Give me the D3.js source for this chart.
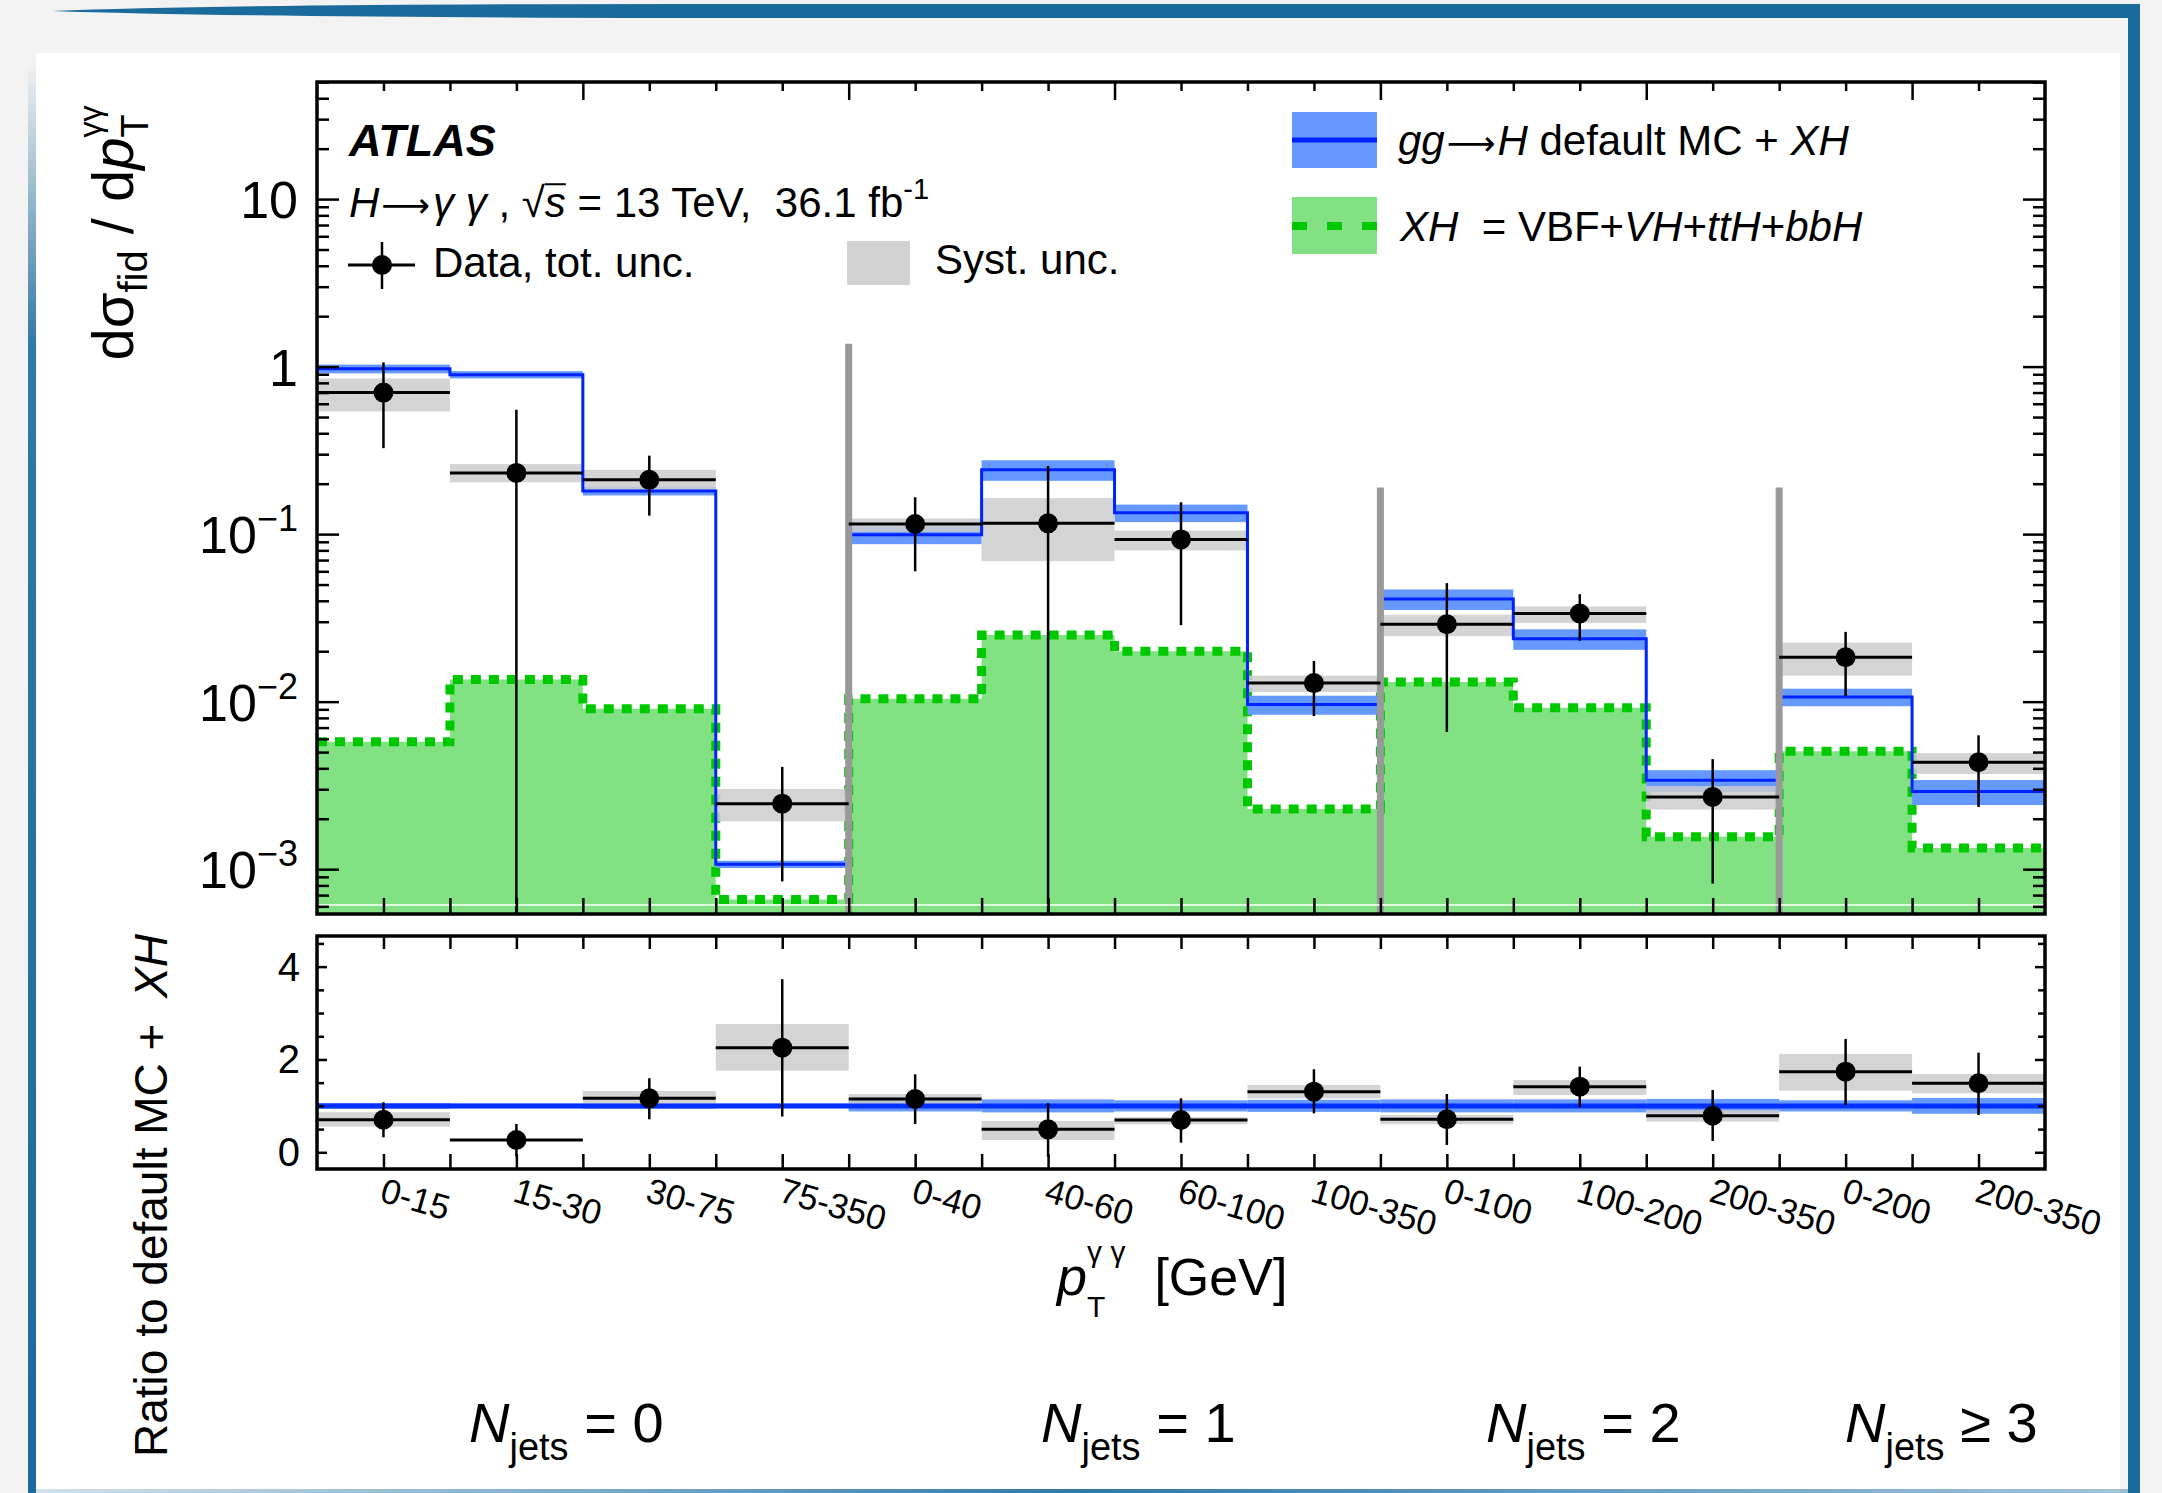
<!DOCTYPE html>
<html>
<head>
<meta charset="utf-8">
<script src="https://cdn.jsdelivr.net/npm/d3@7"></script>
<style>
  body { margin: 0; background: #f3f3f3; }
  svg { display: block; }
  text { white-space: pre; }
</style>
</head>
<body>
<script>
// ---- data ----
const binLabels = ['0-15', '15-30', '30-75', '75-350', '0-40', '40-60', '60-100', '100-350',
  '0-100', '100-200', '200-350', '0-200', '200-350'];

// upper panel, d sigma / d pT  (fb/GeV)
const dataVal = [0.70, 0.232, 0.211, 0.00246, 0.115, 0.116, 0.093, 0.0129, 0.029, 0.0336, 0.0027, 0.0184, 0.00435];
const totHi   = [1.06, 0.553, 0.294, 0.00408, 0.166, 0.255, 0.155, 0.0175, 0.051, 0.0438, 0.00454, 0.0261, 0.0063];
const totLo   = [0.326, 0, 0.129, 0.000845, 0.060, 0, 0.0286, 0.0082, 0.0066, 0.0231, 0.00082, 0.0108, 0.00235];
const systHi  = [0.85, 0.262, 0.242, 0.00301, 0.124, 0.164, 0.105, 0.0143, 0.033, 0.037, 0.00313, 0.0225, 0.00493];
const systLo  = [0.54, 0.204, 0.181, 0.00193, 0.103, 0.069, 0.080, 0.0114, 0.0246, 0.0295, 0.00227, 0.0143, 0.0037];
const mcVal   = [0.97, 0.895, 0.181, 0.00107, 0.099, 0.242, 0.134, 0.0096, 0.041, 0.0237, 0.00339, 0.01067, 0.00291];
const mcUnc   = [0.06, 0.05, 0.06, 0.05, 0.12, 0.14, 0.12, 0.13, 0.14, 0.14, 0.15, 0.12, 0.17];
const xhVal   = [0.00577, 0.01355, 0.00908, 0.00066, 0.0104, 0.025, 0.020, 0.00229, 0.0131, 0.0092, 0.00156, 0.00505, 0.00134];

// N_jets separators (bin edge index, top value)
const sepEdge = [4, 8, 11];
const sepTop = [1.37, 0.19, 0.19];

// ratio panel
const ratioVal    = [0.70, 0.265, 1.163, 2.255, 1.149, 0.495, 0.696, 1.306, 0.711, 1.414, 0.789, 1.737, 1.487];
const ratioHi     = [1.078, 0.61, 1.595, 3.73, 1.681, 1.056, 1.163, 1.789, 1.256, 1.845, 1.343, 2.442, 2.147];
const ratioLo     = [0.323, -0.09, 0.711, 0.77, 0.61, -0.094, 0.207, 0.84, 0.157, 0.97, 0.244, 1.019, 0.804];
const ratioSystHi = [0.862, 0.272, 1.32, 2.765, 1.256, 0.675, 0.754, 1.45, 0.804, 1.558, 0.912, 2.119, 1.687];
const ratioSystLo = [0.552, 0.258, 0.983, 1.759, 1.019, 0.265, 0.603, 1.163, 0.603, 1.235, 0.66, 1.328, 1.271];

const njetsText = ['= 0', '= 1', '= 2', '\u2265 3'];
const upperTickLabels = [[10, '10', ''], [1, '1', ''], [0.1, '10', '\u22121'], [0.01, '10', '\u22122'], [0.001, '10', '\u22123']];
const ratioTickLabels = [0, 2, 4];

// ---- layout ----
const W = 2162, H = 1493;
const L = 317, R = 2045;
const uTop = 82, uBot = 914, rTop = 936, rBot = 1169;
const njetsPosX = [469, 1041, 1486, 1845];
const ARROW = 'DejaVu Sans';

const svg = d3.select('body').append('svg')
  .attr('width', W).attr('height', H)
  .style('font-family', '"Liberation Sans", Arial, Helvetica, sans-serif');

const nb = binLabels.length;
const x = d3.scaleLinear().domain([0, nb]).range([L, R]);
const yU = d3.scaleLog().domain([5.4e-4, 50]).range([uBot, uTop]);
const yR = d3.scaleLinear().domain([-0.36, 4.66]).range([rBot, rTop]);
const bw = x(1) - x(0);

// ---- slide decoration ----
const defs = svg.append('defs');
const lg = defs.append('linearGradient').attr('id', 'leftFade').attr('x1', 0).attr('x2', 0).attr('y1', 0).attr('y2', 1);
lg.append('stop').attr('offset', '0%').attr('stop-color', '#1b6a9c').attr('stop-opacity', 0);
lg.append('stop').attr('offset', '20%').attr('stop-color', '#1b6a9c').attr('stop-opacity', 0.9);
lg.append('stop').attr('offset', '100%').attr('stop-color', '#1b6a9c').attr('stop-opacity', 1);
const bg = defs.append('linearGradient').attr('id', 'botFade');
bg.append('stop').attr('offset', '0%').attr('stop-color', '#1b6a9c').attr('stop-opacity', 0.2);
bg.append('stop').attr('offset', '50%').attr('stop-color', '#1b6a9c').attr('stop-opacity', 0.9);
bg.append('stop').attr('offset', '100%').attr('stop-color', '#1b6a9c').attr('stop-opacity', 0.4);

svg.append('rect').attr('width', W).attr('height', H).attr('fill', '#f3f3f3');
svg.append('rect').attr('x', 36).attr('y', 53).attr('width', 2084).attr('height', 1440).attr('fill', '#fff');
svg.append('path').attr('d', 'M52,11 Q250,3 800,4 L2140,4 L2140,18 L800,18 Q250,18 52,11 Z').attr('fill', '#1b6a9c');
svg.append('rect').attr('x', 2128).attr('y', 4).attr('width', 12).attr('height', H - 4).attr('fill', '#1b6a9c');
svg.append('rect').attr('x', 28).attr('y', 60).attr('width', 8).attr('height', H - 60).attr('fill', 'url(#leftFade)');
svg.append('rect').attr('x', 36).attr('y', H - 4).attr('width', 2092).attr('height', 4).attr('fill', 'url(#botFade)');

defs.append('clipPath').attr('id', 'clipU').append('rect')
  .attr('x', L).attr('y', uTop).attr('width', R - L).attr('height', uBot - uTop);
defs.append('clipPath').attr('id', 'clipR').append('rect')
  .attr('x', L).attr('y', rTop).attr('width', R - L).attr('height', rBot - rTop);

// rich text helper: parts laid out left to right, stack = same x as previous part
function rich(parent, px, py, parts, anchor, rot) {
  const outer = parent.append('g');
  const g = outer.append('g');
  let cx = 0, prevX = 0;
  parts.forEach(p => {
    const sx = p.stack ? prevX : cx + (p.dx || 0);
    const t = g.append('text').attr('x', sx).attr('y', p.dy || 0)
      .attr('font-size', p.fs)
      .attr('font-style', p.it ? 'italic' : null)
      .attr('font-weight', p.bold ? 'bold' : null)
      .style('font-family', p.ff || null)
      .text(p.t);
    const w = t.node().getComputedTextLength();
    if (p.over) {
      g.append('line').attr('x1', sx).attr('x2', sx + w)
        .attr('y1', (p.dy || 0) - p.fs * 0.78).attr('y2', (p.dy || 0) - p.fs * 0.78)
        .attr('stroke', '#000').attr('stroke-width', 2);
    }
    if (p.stack) cx = Math.max(cx, sx + w);
    else { prevX = sx; cx = sx + w; }
  });
  const shift = anchor === 'middle' ? -cx / 2 : anchor === 'end' ? -cx : 0;
  g.attr('transform', `translate(${shift},0)`);
  outer.attr('transform', `translate(${px},${py})` + (rot ? ` rotate(${rot})` : ''));
  return outer;
}

const steps = vals => vals.flatMap((v, i) => [[i, v], [i + 1, v]]);

// ---- upper panel ----
const gU = svg.append('g').attr('clip-path', 'url(#clipU)');

gU.append('path').datum(steps(xhVal))
  .attr('d', d3.area().x(d => x(d[0])).y0(uBot).y1(d => yU(d[1])))
  .attr('fill', '#82e283');
gU.append('path').datum(steps(xhVal))
  .attr('d', d3.line().x(d => x(d[0])).y(d => yU(d[1])))
  .attr('fill', 'none').attr('stroke', '#00c800').attr('stroke-width', 9).attr('stroke-dasharray', '10 8');

gU.selectAll('rect.mcband').data(mcVal).join('rect').attr('class', 'mcband')
  .attr('x', (d, i) => x(i)).attr('width', bw)
  .attr('y', (d, i) => yU(d * (1 + mcUnc[i])))
  .attr('height', (d, i) => yU(d * (1 - mcUnc[i])) - yU(d * (1 + mcUnc[i])))
  .attr('fill', '#6699ff');

gU.selectAll('rect.syst').data(systHi).join('rect').attr('class', 'syst')
  .attr('x', (d, i) => x(i)).attr('width', bw)
  .attr('y', d => yU(d))
  .attr('height', (d, i) => yU(systLo[i]) - yU(d))
  .attr('fill', '#cdcdcd').attr('fill-opacity', 0.85);

gU.append('path').datum(steps(mcVal))
  .attr('d', d3.line().x(d => x(d[0])).y(d => yU(d[1])))
  .attr('fill', 'none').attr('stroke', '#0022ff').attr('stroke-width', 3);

gU.selectAll('line.sep').data(sepEdge).join('line').attr('class', 'sep')
  .attr('x1', d => x(d)).attr('x2', d => x(d))
  .attr('y1', (d, i) => yU(sepTop[i])).attr('y2', uBot)
  .attr('stroke', '#999').attr('stroke-width', 7);

gU.selectAll('line.dh').data(dataVal).join('line').attr('class', 'dh')
  .attr('x1', (d, i) => x(i)).attr('x2', (d, i) => x(i + 1))
  .attr('y1', d => yU(d)).attr('y2', d => yU(d))
  .attr('stroke', '#000').attr('stroke-width', 3);
gU.selectAll('line.dv').data(dataVal).join('line').attr('class', 'dv')
  .attr('x1', (d, i) => x(i + 0.5)).attr('x2', (d, i) => x(i + 0.5))
  .attr('y1', (d, i) => yU(totHi[i])).attr('y2', (d, i) => yU(Math.max(totLo[i], 1e-5)))
  .attr('stroke', '#000').attr('stroke-width', 2.5);
gU.selectAll('circle.dp').data(dataVal).join('circle').attr('class', 'dp')
  .attr('cx', (d, i) => x(i + 0.5)).attr('cy', d => yU(d)).attr('r', 10).attr('fill', '#000');

gU.append('line').attr('x1', L).attr('x2', R).attr('y1', uBot - 9).attr('y2', uBot - 9)
  .attr('stroke', '#fff').attr('stroke-width', 1.5);

// ---- ratio panel ----
const gR = svg.append('g').attr('clip-path', 'url(#clipR)');
gR.selectAll('rect.rb').data(mcUnc).join('rect').attr('class', 'rb')
  .attr('x', (d, i) => x(i)).attr('width', bw)
  .attr('y', d => yR(1 + d)).attr('height', d => yR(1 - d) - yR(1 + d))
  .attr('fill', '#6699ff');
gR.selectAll('rect.rs').data(ratioSystHi).join('rect').attr('class', 'rs')
  .attr('x', (d, i) => x(i)).attr('width', bw)
  .attr('y', d => yR(d)).attr('height', (d, i) => yR(ratioSystLo[i]) - yR(d))
  .attr('fill', '#cdcdcd').attr('fill-opacity', 0.85);
gR.append('line').attr('x1', x(0)).attr('x2', x(nb)).attr('y1', yR(1)).attr('y2', yR(1))
  .attr('stroke', '#0030ff').attr('stroke-width', 5);
gR.selectAll('line.rh').data(ratioVal).join('line').attr('class', 'rh')
  .attr('x1', (d, i) => x(i)).attr('x2', (d, i) => x(i + 1))
  .attr('y1', d => yR(d)).attr('y2', d => yR(d))
  .attr('stroke', '#000').attr('stroke-width', 3);
gR.selectAll('line.rv').data(ratioVal).join('line').attr('class', 'rv')
  .attr('x1', (d, i) => x(i + 0.5)).attr('x2', (d, i) => x(i + 0.5))
  .attr('y1', (d, i) => yR(ratioHi[i])).attr('y2', (d, i) => yR(ratioLo[i]))
  .attr('stroke', '#000').attr('stroke-width', 2.5);
gR.selectAll('circle.rp').data(ratioVal).join('circle').attr('class', 'rp')
  .attr('cx', (d, i) => x(i + 0.5)).attr('cy', d => yR(d)).attr('r', 10).attr('fill', '#000');

// ---- axes / ticks ----
const noDomain = g => { g.select('.domain').remove(); g.selectAll('line').attr('stroke', '#000').attr('stroke-width', 2.5); };
const logTicks = yU.ticks();
const uMajor = logTicks.filter(v => Math.abs(Math.log10(v) - Math.round(Math.log10(v))) < 1e-6);
const uMinor = logTicks.filter(v => !uMajor.includes(v));
const halfBins = d3.range(0.5, nb, 0.5);
const xMajor = d3.range(2, nb, 2);
const xMinor = halfBins.filter(v => !xMajor.includes(v));

const ax = (tr, axis) => svg.append('g').attr('transform', tr).call(axis.tickFormat('')).call(noDomain);
ax(`translate(${L},0)`, d3.axisLeft(yU).tickValues(uMinor).tickSize(-12));
ax(`translate(${L},0)`, d3.axisLeft(yU).tickValues(uMajor).tickSize(-22));
ax(`translate(${R},0)`, d3.axisRight(yU).tickValues(uMinor).tickSize(-12));
ax(`translate(${R},0)`, d3.axisRight(yU).tickValues(uMajor).tickSize(-22));
ax(`translate(0,${uTop})`, d3.axisTop(x).tickValues(xMinor).tickSize(-9));
ax(`translate(0,${uTop})`, d3.axisTop(x).tickValues(xMajor).tickSize(-18));
ax(`translate(0,${uBot})`, d3.axisBottom(x).tickValues(halfBins).tickSize(-16));

const rAll = d3.range(0, 4.6, 0.5);
ax(`translate(${L},0)`, d3.axisLeft(yR).tickValues(rAll.filter(v => !ratioTickLabels.includes(v))).tickSize(-7));
ax(`translate(${L},0)`, d3.axisLeft(yR).tickValues(ratioTickLabels).tickSize(-10));
ax(`translate(${R},0)`, d3.axisRight(yR).tickValues(rAll.filter(v => !ratioTickLabels.includes(v))).tickSize(-7));
ax(`translate(${R},0)`, d3.axisRight(yR).tickValues(ratioTickLabels).tickSize(-10));
ax(`translate(0,${rTop})`, d3.axisTop(x).tickValues(halfBins).tickSize(-13));
ax(`translate(0,${rBot})`, d3.axisBottom(x).tickValues(halfBins).tickSize(-15));

svg.append('rect').attr('x', L).attr('y', uTop).attr('width', R - L).attr('height', uBot - uTop)
  .attr('fill', 'none').attr('stroke', '#000').attr('stroke-width', 3.5);
svg.append('rect').attr('x', L).attr('y', rTop).attr('width', R - L).attr('height', rBot - rTop)
  .attr('fill', 'none').attr('stroke', '#000').attr('stroke-width', 3.5);

// tick labels
upperTickLabels.forEach(([v, base, exp]) => {
  const parts = [{ t: base, fs: 52 }];
  if (exp) parts.push({ t: exp, fs: 36, dy: -22 });
  rich(svg, 298, yU(v) + 19, parts, 'end');
});
ratioTickLabels.forEach(v => {
  svg.append('text').attr('x', 300).attr('y', yR(v) + 14).attr('text-anchor', 'end')
    .attr('font-size', 40).text(v);
});
svg.selectAll('text.xl').data(binLabels).join('text').attr('class', 'xl')
  .attr('transform', (d, i) => `translate(${x(i + 0.5) - 5},${rBot + 32}) rotate(16)`)
  .attr('font-size', 35).text(d => d);

// axis titles
rich(svg, 133, 233, [
  { t: 'd\u03c3', fs: 58 }, { t: 'fid', fs: 40, dy: 14 }, { t: ' / d', fs: 58 },
  { t: 'p', fs: 58, it: true }, { t: 'T', fs: 38, dy: 15 }, { t: '\u03b3\u03b3', fs: 32, dy: -32, stack: true }
], 'middle', -90);
rich(svg, 167, 1457, [
  { t: 'Ratio to default MC +  ', fs: 46 }, { t: 'XH', fs: 46, it: true }
], 'start', -90);
rich(svg, 1057, 1295, [
  { t: 'p', fs: 54, it: true }, { t: 'T', fs: 30, dy: 22 }, { t: '\u03b3 \u03b3', fs: 30, dy: -33, stack: true },
  { t: '[GeV]', fs: 52, dx: 29 }
], 'start');

njetsText.forEach((t, i) => {
  rich(svg, njetsPosX[i], 1442, [
    { t: 'N', fs: 56, it: true }, { t: 'jets', fs: 38, dy: 18 }, { t: ' ' + t, fs: 56 }
  ], 'start');
});

// ---- labels and legends ----
rich(svg, 349, 156, [{ t: 'ATLAS', fs: 45, it: true, bold: true }], 'start');
rich(svg, 349, 217, [
  { t: 'H', fs: 42, it: true }, { t: '\u27f6', fs: 34, ff: ARROW, dx: 2 }, { t: '\u03b3 \u03b3', fs: 42, it: true, dx: 3 },
  { t: ' , ', fs: 42 }, { t: '\u221a', fs: 42 }, { t: 's', fs: 42, it: true, over: true },
  { t: ' = 13 TeV,  36.1 fb', fs: 42 }, { t: '-1', fs: 29, dy: -18 }
], 'start');

// data legend entry
const lgD = svg.append('g');
lgD.append('line').attr('x1', 348).attr('x2', 415).attr('y1', 265).attr('y2', 265).attr('stroke', '#000').attr('stroke-width', 3);
lgD.append('line').attr('x1', 382).attr('x2', 382).attr('y1', 242).attr('y2', 289).attr('stroke', '#000').attr('stroke-width', 2.5);
lgD.append('circle').attr('cx', 382).attr('cy', 265).attr('r', 10).attr('fill', '#000');
rich(svg, 433, 277, [{ t: 'Data, tot. unc.', fs: 42 }], 'start');
svg.append('rect').attr('x', 847).attr('y', 241).attr('width', 63).attr('height', 44).attr('fill', '#d3d3d3');
rich(svg, 935, 274, [{ t: 'Syst. unc.', fs: 42 }], 'start');

// MC legend
svg.append('rect').attr('x', 1292).attr('y', 112).attr('width', 85).attr('height', 56).attr('fill', '#6699ff');
svg.append('line').attr('x1', 1292).attr('x2', 1377).attr('y1', 140).attr('y2', 140).attr('stroke', '#0022ff').attr('stroke-width', 5);
rich(svg, 1398, 155, [
  { t: 'gg', fs: 42, it: true }, { t: '\u27f6', fs: 34, ff: ARROW, dx: 2 }, { t: 'H', fs: 42, it: true, dx: 2 },
  { t: ' default MC + ', fs: 42 }, { t: 'XH', fs: 42, it: true }
], 'start');
svg.append('rect').attr('x', 1292).attr('y', 197).attr('width', 85).attr('height', 57).attr('fill', '#82e283');
svg.append('line').attr('x1', 1292).attr('x2', 1377).attr('y1', 226).attr('y2', 226)
  .attr('stroke', '#00c800').attr('stroke-width', 8).attr('stroke-dasharray', '15 20');
rich(svg, 1400, 241, [
  { t: 'XH', fs: 42, it: true }, { t: '  = VBF+', fs: 42 }, { t: 'VH', fs: 42, it: true }, { t: '+', fs: 42 },
  { t: 'ttH', fs: 42, it: true }, { t: '+', fs: 42 }, { t: 'bbH', fs: 42, it: true }
], 'start');
</script>
</body>
</html>
